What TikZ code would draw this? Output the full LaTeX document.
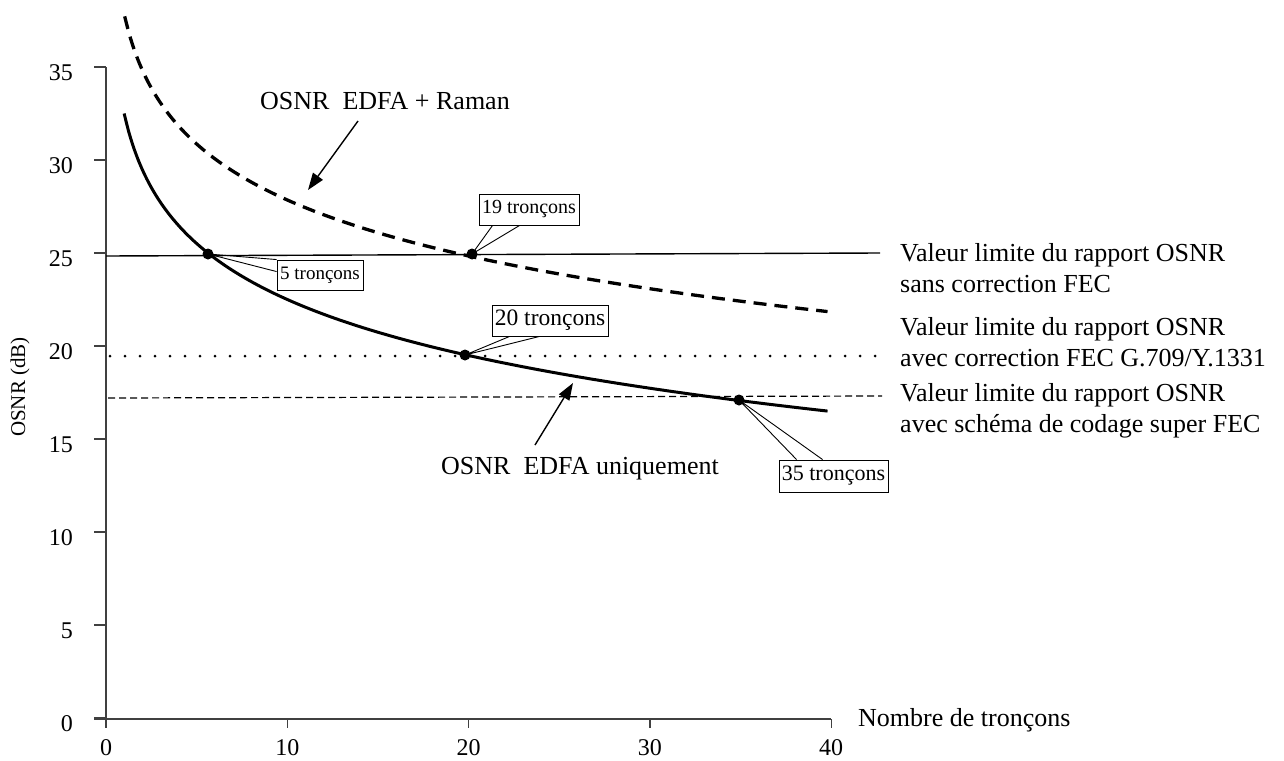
\documentclass[tikz,border=0pt]{standalone}
\usepackage{fontspec}
\setmainfont{Liberation Serif}
\usetikzlibrary{arrows.meta,calc}
\begin{document}
\begin{tikzpicture}[x=1pt,y=-1pt,
  lbl/.style={font=\fontsize{26}{32}\selectfont, inner sep=0pt},
  leg/.style={font=\fontsize{26}{31}\selectfont, inner sep=0pt, align=left, anchor=base west},
  ticklbl/.style={font=\fontsize{24}{28}\selectfont, inner sep=0pt},
  axisline/.style={line width=1.3pt, draw=black!75},
  dotpt/.style={circle, fill=black, inner sep=0pt, minimum size=11pt},
  callout/.style={draw, line width=0.9pt, fill=white, inner sep=0pt},
  wedge/.style={line width=0.9pt},
  arr/.style={line width=1.4pt, -{Triangle[length=17pt,width=12pt]}},
]
\useasboundingbox (0,0) rectangle (1284,760);
% axes
\coordinate (ytop) at (106,67);
\coordinate (ybot) at (106,719);
\coordinate (xleft) at (94,719);
\coordinate (xright) at (831,719);
\draw[axisline] (ytop) -- (ybot);
\draw[axisline] (xleft) -- (xright);
\foreach \v in {0,5,...,35}{
  \draw[axisline] (94,{718-18.6*\v}) -- (106,{718-18.6*\v});
  \node[ticklbl, anchor=east] (yt\v) at (73,{724-18.6*\v}) {\v};
}
\foreach \v in {0,10,20,30,40}{
  \draw[axisline] ({106+18.13*\v},719) -- ++(0,9);
  \node[ticklbl] (xt\v) at ({106+18.13*\v},748) {\v};
}
\node[font=\fontsize{21}{24}\selectfont, inner sep=0pt, rotate=90] (ytitle) at (20,387) {OSNR (dB)};
\node[lbl, anchor=base west] (xtitle) at (858,726) {Nombre de tronçons};
% limit lines
\draw[line width=1.4pt] (106,256) -- (880,253);
\draw[line width=3pt, line cap=round, dash pattern=on 0pt off 15pt] (110,356) -- (875,356);
\draw[line width=1.2pt, dash pattern=on 7pt off 4pt] (108,398) -- (882,396);
% curves
\draw[line width=3pt] plot[domain=1:39.8, samples=150, smooth] ({106+18.13*\x},{718-18.6*(32.5-4.3429*ln(\x))});
\draw[line width=3.3pt, dash pattern=on 13pt off 8pt] plot[domain=1.03:39.8, samples=150, smooth] ({106+18.13*\x},{718-18.6*(37.85-4.3429*ln(\x))});
% intersection points
\node[dotpt] (p5) at (208,254) {};
\node[dotpt] (p19) at (472,254) {};
\node[dotpt] (p20) at (465,355) {};
\node[dotpt] (p35) at (739,400) {};
% callouts
\node[callout, minimum width=86pt, minimum height=30pt, font=\fontsize{19}{22}\selectfont] (c5) at (320,275) {5 tronçons};
\node[callout, minimum width=100pt, minimum height=31pt, font=\fontsize{20}{23}\selectfont] (c19) at (529,209.5) {19 tronçons};
\node[callout, minimum width=116pt, minimum height=31pt, font=\fontsize{23.5}{26}\selectfont] (c20) at (550,320.5) {20 tronçons};
\node[callout, minimum width=109pt, minimum height=32pt, font=\fontsize{22}{25}\selectfont] (c35) at (833.5,476) {35 tronçons};
\draw[wedge] (c5.north west) -- (p5.center) -- ($(c5.north west)+(0,12)$);
\draw[wedge] ($(c19.south west)+(14,0)$) -- (p19.center) -- ($(c19.south west)+(41,0)$);
\draw[wedge] ($(c20.south west)+(18,0)$) -- (p20.center) -- ($(c20.south west)+(48,0)$);
\draw[wedge] ($(c35.north west)+(18,0)$) -- (p35.center) -- ($(c35.north west)+(44,0)$);
% curve labels
\node[lbl, anchor=base] (raman) at (385,109) {OSNR\ \ EDFA + Raman};
\coordinate (ra1) at (358,121);
\coordinate (ra2) at (308,190);
\draw[arr] (ra1) -- (ra2);
\node[lbl, anchor=base] (edfa) at (580,474) {OSNR\ \ EDFA uniquement};
\coordinate (ed1) at (535,445);
\coordinate (ed2) at (573,383);
\draw[arr] (ed1) -- (ed2);
% legend (anchor = baseline of the last line)
\node[leg] (leg1) at (900,292) {Valeur limite du rapport OSNR\\sans correction FEC};
\node[leg] (leg2) at (900,366) {Valeur limite du rapport OSNR\\avec correction FEC G.709/Y.1331};
\node[leg] (leg3) at (900,432) {Valeur limite du rapport OSNR\\avec schéma de codage super FEC};
\end{tikzpicture}
\end{document}
